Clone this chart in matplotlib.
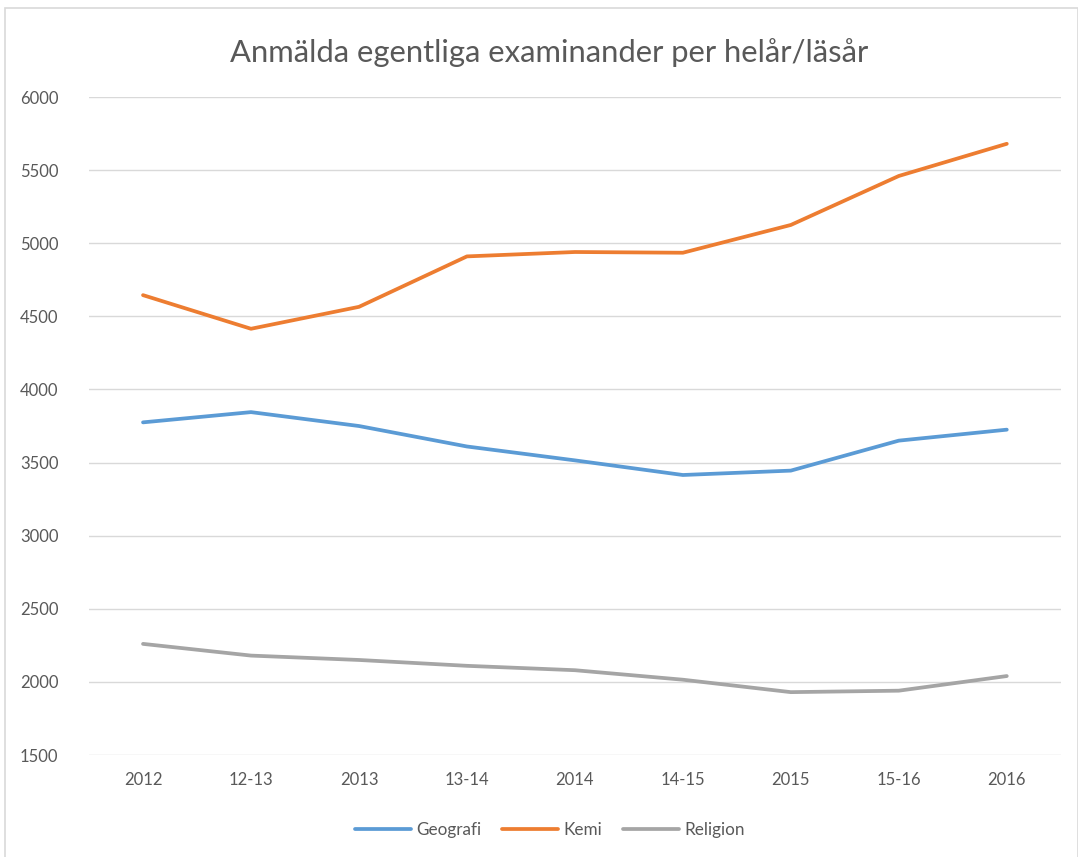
import numpy as np
import matplotlib.pyplot as plt
from matplotlib.patches import Rectangle

plt.rcParams['font.family'] = ['Lato', 'DejaVu Sans']

# data
categories = ['2012', '12-13', '2013', '13-14', '2014', '14-15', '2015', '15-16', '2016']
geografi = [3775, 3845, 3750, 3610, 3515, 3415, 3445, 3650, 3725]
kemi = [4645, 4415, 4565, 4910, 4940, 4935, 5125, 5460, 5680]
religion = [2260, 2180, 2150, 2110, 2080, 2015, 1930, 1940, 2040]

fig = plt.figure(figsize=(10.78, 8.57), dpi=100)
ax = fig.add_axes([0.0826, 0.119, 0.9014, 0.7678])

x = np.arange(len(categories))
ax.plot(x, geografi, color='#5B9BD5', lw=2.7, label='Geografi', solid_capstyle='round')
ax.plot(x, kemi, color='#ED7D31', lw=2.7, label='Kemi', solid_capstyle='round')
ax.plot(x, religion, color='#A5A5A5', lw=2.7, label='Religion', solid_capstyle='round')

ax.set_xlim(-0.5, len(categories) - 0.5)
ax.set_ylim(1500, 6000)
ax.set_yticks(np.arange(1500, 6001, 500))
ax.set_xticks(x)
ax.set_xticklabels(categories)
ax.grid(axis='y', color='#d9d9d9', lw=1)
ax.set_axisbelow(True)
for s in ax.spines.values():
    s.set_visible(False)
ax.tick_params(length=0, labelsize=12, labelcolor='#595959')
ax.tick_params(axis='x', pad=12)
ax.tick_params(axis='y', pad=22)

fig.text(0.509, 0.939, 'Anmälda egentliga examinander per helår/läsår',
         ha='center', va='center', fontsize=22.3, color='#595959')

leg = fig.legend(loc='center', bbox_to_anchor=(0.51, 0.032), ncol=3, frameon=False,
                 fontsize=12.3, handlelength=3.3, handletextpad=0.3, columnspacing=1.2)
for t in leg.get_texts():
    t.set_color('#595959')

# outer chart border
fig.patches.append(Rectangle((0.005, -0.01), 0.995, 1.0 - 0.0093 + 0.01,
                             transform=fig.transFigure, fill=False,
                             edgecolor='#d9d9d9', lw=1.2))

fig.savefig('out.png', dpi=100)
